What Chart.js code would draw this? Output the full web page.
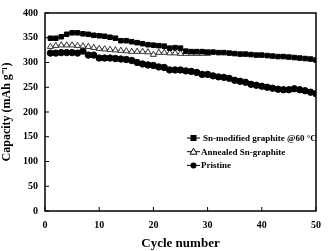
<!DOCTYPE html>
<html>
<head>
<meta charset="utf-8">
<script src="https://cdn.jsdelivr.net/npm/chart.js@4/dist/chart.umd.min.js"></script>
<style>
  html,body{margin:0;padding:0;background:#fff;}
  #c{display:block;}
</style>
</head>
<body>
<canvas id="c" width="329" height="251"></canvas>
<script>
const cycles = Array.from({length:50},(_,i)=>i+1);

const snModified = [349,349,352,357,360,360,358,357,355,354,353,351,349,344,344,342,340,338,336,335,
  334,333,329,330,329,323,322,322,322,321,321,320,320,319,318,317,317,316,315,315,
  314,313,312,312,311,310,309,308,307,305];

const annealed = [332,334,335,335,335,334,333,332,330,328,327,326,325,324,323,322,322,322,321,316,
  320,320,319,319,318,318,318,318,318,318];

const pristine = [319,319,320,320,320,319,323,315,315,309,309,309,308,307,306,304,300,297,295,294,
  291,290,285,285,285,283,282,280,276,276,273,271,270,268,264,262,260,256,254,252,
  250,248,246,245,245,247,245,243,240,237];

const seriesLabels = ["Sn-modified graphite @60 °C","Annealed Sn-graphite","Pristine"];
const xTicks = [0,10,20,30,40,50];
const yTicks = [0,50,100,150,200,250,300,350,400];

const FONT = "'Liberation Serif','Times New Roman',serif";

function pts(vals){ return vals.map((v,i)=>({x:cycles[i], y:v})); }

// frame + inward ticks
const frame = {
  id:"frame",
  afterDraw(ch){
    const {ctx, chartArea:a, scales} = ch;
    ctx.save();
    ctx.strokeStyle = "#000";
    ctx.lineWidth = 1.5;
    ctx.strokeRect(a.left, a.top, a.right-a.left, a.bottom-a.top);
    ctx.lineWidth = 1;
    ctx.beginPath();
    xTicks.forEach(t=>{
      const x = scales.x.getPixelForValue(t);
      ctx.moveTo(x, a.bottom); ctx.lineTo(x, a.bottom-4);
    });
    yTicks.forEach(t=>{
      const y = scales.y.getPixelForValue(t);
      ctx.moveTo(a.left, y); ctx.lineTo(a.left+4, y);
    });
    ctx.stroke();
    ctx.restore();
  }
};

// legend inside the plot
const inLegend = {
  id:"inLegend",
  afterDraw(ch){
    const ctx = ch.ctx;
    const x0 = 187, tx = 201, y0 = 138, dy = 13.7;
    ctx.save();
    ctx.font = "bold 9px " + FONT;
    ctx.textBaseline = "middle";
    ctx.fillStyle = "#000";
    ch.data.datasets.forEach((ds,i)=>{
      const y = y0 + i*dy;
      ctx.strokeStyle = "#000";
      ctx.lineWidth = 1;
      ctx.beginPath(); ctx.moveTo(x0,y); ctx.lineTo(x0+13,y); ctx.stroke();
      const cx = x0+6.5;
      ctx.beginPath();
      if(ds.pointStyle==="rect"){
        ctx.fillRect(cx-3,y-3,6,6);
      } else if(ds.pointStyle==="triangle"){
        ctx.moveTo(cx,y-3.5); ctx.lineTo(cx+3.5,y+2.5); ctx.lineTo(cx-3.5,y+2.5); ctx.closePath();
        ctx.fillStyle="#fff"; ctx.fill(); ctx.stroke(); ctx.fillStyle="#000";
      } else {
        ctx.arc(cx,y,3,0,Math.PI*2); ctx.fill();
      }
      ctx.fillText(ds.label, tx + (i===0?2:0), y+0.5);
    });
    ctx.restore();
  }
};

new Chart(document.getElementById("c"),{
  type:"line",
  data:{
    datasets:[{
      label:seriesLabels[0],
      data:pts(snModified),
      pointStyle:"rect",
      pointRadius:3.2,
      backgroundColor:"#000",
      borderColor:"#000",
      borderWidth:1
    },{
      label:seriesLabels[1],
      data:pts(annealed),
      pointStyle:"triangle",
      pointRadius:3.5,
      pointBackgroundColor:"#fff",
      pointBorderColor:"#333",
      backgroundColor:"#fff",
      borderColor:"#555",
      borderWidth:1
    },{
      label:seriesLabels[2],
      data:pts(pristine),
      pointStyle:"circle",
      pointRadius:3.2,
      backgroundColor:"#000",
      borderColor:"#000",
      borderWidth:1
    }]
  },
  options:{
    responsive:false,
    animation:false,
    layout:{padding:{top:5,right:7,left:0,bottom:0}},
    plugins:{legend:{display:false}, tooltip:{enabled:false}},
    scales:{
      x:{
        type:"linear",
        min:0,max:50,
        afterBuildTicks(s){ s.ticks = xTicks.map(v=>({value:v})); },
        afterFit(s){ s.height = 40; },
        grid:{display:false, drawTicks:false},
        border:{display:false},
        ticks:{color:"#000", padding:8, font:{family:FONT, size:10, weight:"bold"}},
        title:{display:true, text:"Cycle number", color:"#000", padding:{top:2,bottom:0},
          font:{family:FONT, size:13, weight:"bold"}}
      },
      y:{
        min:0,max:400,
        afterBuildTicks(s){ s.ticks = yTicks.map(v=>({value:v})); },
        afterFit(s){ s.width = 45; },
        grid:{display:false, drawTicks:false},
        border:{display:false},
        ticks:{color:"#000", padding:7, font:{family:FONT, size:10, weight:"bold"}},
        title:{display:true, text:"Capacity (mAh g\u207B\u00B9)", color:"#000", padding:{top:0,bottom:0},
          font:{family:FONT, size:12, weight:"bold"}}
      }
    }
  },
  plugins:[frame, inLegend]
});
</script>
</body>
</html>
